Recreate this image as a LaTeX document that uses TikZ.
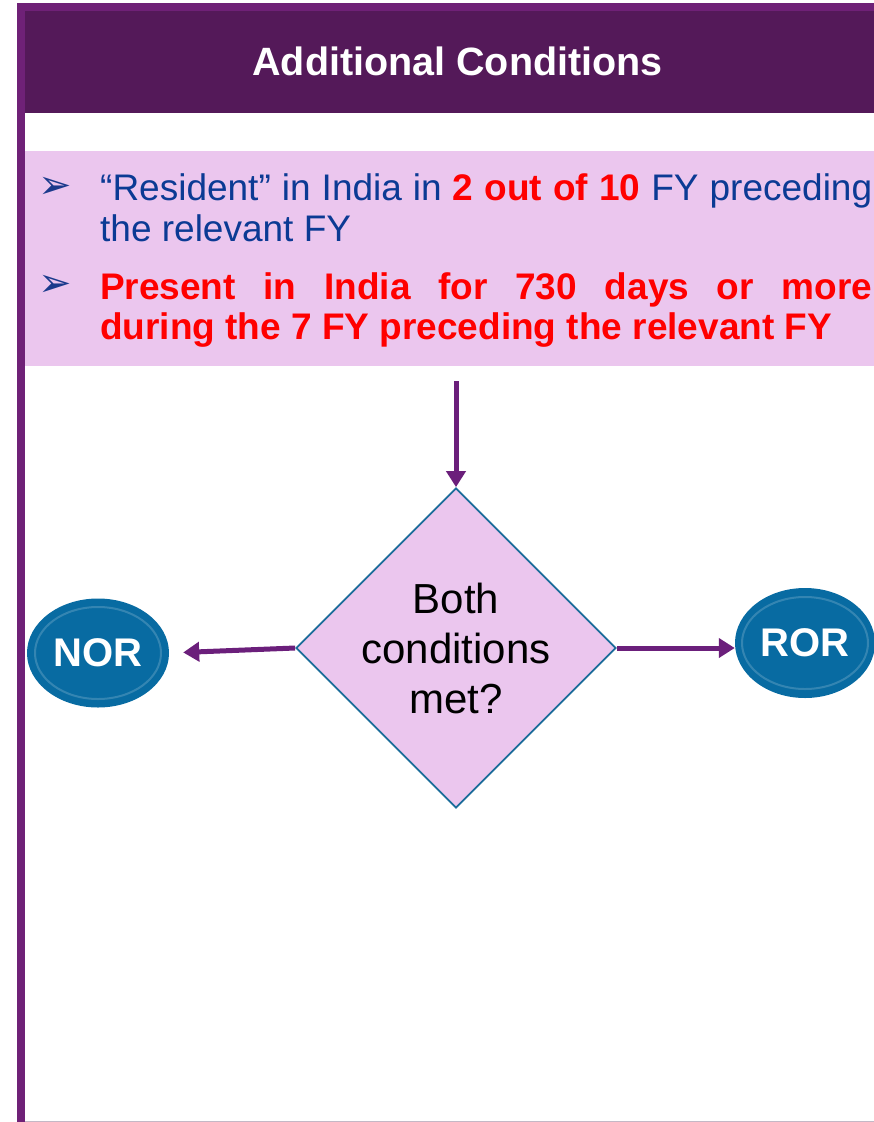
\documentclass[tikz,border=0pt]{standalone}
\usepackage{fontspec}
\setmainfont{Liberation Sans}
\newfontfamily\simbolos{DejaVu Sans}
\usetikzlibrary{shapes.geometric,arrows.meta}

\definecolor{morado}{HTML}{6F2177}
\definecolor{moradoosc}{HTML}{541959}
\definecolor{rosa}{HTML}{EBC6EE}
\definecolor{azultexto}{HTML}{0B3A94}
\definecolor{azulvineta}{HTML}{1A3A8C}
\definecolor{azulnodo}{HTML}{086BA2}
\definecolor{bordeazul}{HTML}{1B6C9A}
\definecolor{flecha}{HTML}{6B1F7B}
\definecolor{lineagris}{HTML}{C4B8C6}

\tikzset{
  resultado/.style={ellipse, fill=azulnodo, text=white, inner sep=0pt,
    font=\fontsize{40}{40}\selectfont\bfseries,
    path picture={\draw[white!60!azulnodo, line width=2pt, opacity=0.3]
      (path picture bounding box.center) ellipse [x radius=63pt, y radius=46pt];}},
  decision/.style={diamond, draw=bordeazul, line width=1.8pt, fill=rosa,
    minimum width=315pt, minimum height=317pt, inner sep=0pt, align=center,
    font=\fontsize{42}{50}\selectfont},
  conector/.style={draw=flecha, line width=5pt, -{Triangle[width=19pt,length=16pt]}},
  vineta/.style={text=azulvineta, inner sep=0pt, font=\simbolos\fontsize{40}{40}\selectfont},
  texto/.style={anchor=north west, inner sep=0pt, text width=772pt, align=justify,
    font=\fontsize{37}{41}\selectfont}
}

\begin{document}
\begin{tikzpicture}[x=1pt, y=-1pt]
    \useasboundingbox (0,0) rectangle (874,1122);

    % Marco
    \fill[morado] (17,3) rectangle (874,11);
    \fill[morado] (17,3) rectangle (25,1122);
    \draw[lineagris, line width=1pt] (25,1121) -- (874,1121);

    % Encabezado
    \fill[moradoosc] (25,11) rectangle (874,113);
    \node[text=white, font=\fontsize{39.5}{40}\selectfont\bfseries] (titulo) at (457.5,61) {Additional Conditions};

    % Condiciones
    \fill[rosa] (25,151) rectangle (874,366);
    \node[vineta] (v1) at (55,188) {➢};
    \node[vineta] (v2) at (55,286) {➢};
    \node[texto, text=azultexto] (c1) at (100,173)
        {“Resident” in India in \textbf{\color{red}2 out of 10} FY preceding\linebreak the relevant FY};
    \node[texto, text=red, font=\fontsize{37}{40}\selectfont\bfseries] (c2) at (100,272)
        {Present in India for 730 days or more\linebreak during the 7 FY preceding the relevant FY};

    % Decision y resultados
    \node[decision] (cond) at (456,648) {Both\\conditions\\met?};
    \node[resultado, minimum width=142pt, minimum height=109pt] (nor) at (98,653) {NOR};
    \node[resultado, minimum width=140pt, minimum height=110pt] (ror) at (805,643) {ROR};

    % Flechas
    \coordinate (inicio) at (456,381);
    \draw[conector] (inicio) -- (cond.north);
    \draw[conector, shorten >=14pt] (cond.west) -- (nor.east);
    \draw[conector] (cond.east) -- (cond.east -| ror.west);
\end{tikzpicture}
\end{document}
